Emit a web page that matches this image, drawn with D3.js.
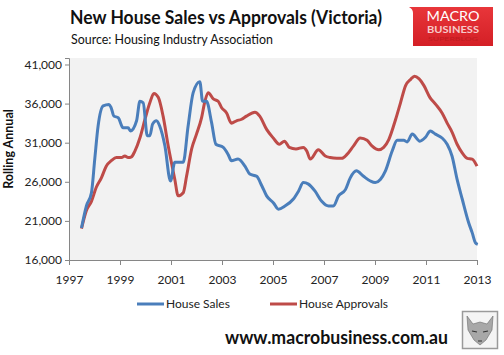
<!DOCTYPE html>
<html>
<head>
<meta charset="utf-8">
<script src="https://cdn.jsdelivr.net/npm/d3@7"></script>
<style>
  body { margin: 0; background: #fff; }
  svg { display: block; font-family: Lato, "Open Sans", sans-serif; }
</style>
</head>
<body>
<svg id="chart"></svg>
<script>
const svgWidth = 504;
const svgHeight = 355;
const margin = { top: 58, right: 27, bottom: 95, left: 69 };

const width = svgWidth - margin.left - margin.right;
const height = svgHeight - margin.top - margin.bottom;

// House sales, rolling annual (decimal year, value)
const salesYears = [1997.49, 1997.68, 1997.88, 1998.01, 1998.14, 1998.34, 1998.57, 1998.65, 1998.76, 1998.93,
  1999.12, 1999.32, 1999.41, 1999.65, 1999.78, 1999.91, 2000.07, 2000.17, 2000.28, 2000.43,
  2000.56, 2000.76, 2000.98, 2001.15, 2001.48, 2001.67, 2001.87, 2002.13, 2002.24, 2002.39,
  2002.59, 2002.76, 2003.05, 2003.24, 2003.37, 2003.63, 2003.90, 2004.09, 2004.36, 2004.56,
  2004.75, 2005.02, 2005.21, 2005.47, 2005.80, 2006.00, 2006.19, 2006.39, 2006.65, 2006.91,
  2007.18, 2007.37, 2007.57, 2007.84, 2008.03, 2008.27, 2008.55, 2008.82, 2009.01, 2009.21,
  2009.41, 2009.67, 2009.87, 2010.13, 2010.26, 2010.46, 2010.76, 2010.98, 2011.17, 2011.37,
  2011.63, 2011.83, 2012.02, 2012.22, 2012.42, 2012.67, 2012.81, 2012.94, 2013.03];
const salesValues = [20100, 22900, 24600, 28900, 33100, 35700, 35900, 35500, 34400, 34200,
  32900, 32900, 32500, 33800, 36300, 36100, 31900, 31900, 33400, 33800,
  33100, 30600, 26100, 28500, 28500, 33100, 37400, 38800, 36300, 36300,
  33600, 30800, 30400, 29500, 28700, 28900, 28000, 27000, 26700, 25500,
  24200, 23300, 22500, 22900, 23800, 24800, 25900, 25700, 24800, 23500,
  22900, 22900, 24200, 25000, 26500, 27400, 26700, 26100, 25900, 26300,
  27400, 29900, 31300, 31300, 31100, 32100, 31200, 31700, 32500, 32100,
  31600, 30800, 29300, 26300, 23800, 20800, 19500, 18200, 18000];

// House approvals, rolling annual
const approvalYears = [1997.49, 1997.68, 1997.88, 1998.07, 1998.27, 1998.46, 1998.66, 1998.86, 1999.06, 1999.19,
  1999.32, 1999.45, 1999.58, 1999.78, 1999.98, 2000.17, 2000.33, 2000.50, 2000.69, 2000.89,
  2001.15, 2001.28, 2001.48, 2001.61, 2001.81, 2002.00, 2002.20, 2002.33, 2002.46, 2002.66,
  2002.85, 2002.98, 2003.18, 2003.37, 2003.57, 2003.77, 2003.96, 2004.29, 2004.48, 2004.75,
  2005.01, 2005.25, 2005.45, 2005.64, 2005.90, 2006.19, 2006.33, 2006.46, 2006.78, 2007.05,
  2007.24, 2007.50, 2007.70, 2007.90, 2008.16, 2008.42, 2008.69, 2008.88, 2009.15, 2009.34,
  2009.54, 2009.81, 2010.00, 2010.20, 2010.40, 2010.55, 2010.72, 2010.92, 2011.15, 2011.38,
  2011.63, 2011.83, 2012.03, 2012.22, 2012.42, 2012.62, 2012.81, 2013.00];
const approvalValues = [20000, 22300, 23500, 25300, 26500, 28000, 28700, 29100, 29100, 29300,
  29100, 29200, 29900, 31600, 34000, 36100, 37300, 36800, 34400, 30600,
  26300, 24200, 24600, 26700, 30200, 32100, 34200, 36300, 37400, 36600,
  36300, 35500, 34800, 33500, 33800, 34000, 34400, 34900, 34400, 32700,
  31600, 30800, 31200, 30400, 30200, 30400, 29900, 28900, 30100, 29300,
  29100, 29000, 29000, 29500, 30600, 31600, 31300, 30600, 30100, 30400,
  31400, 34000, 36100, 38300, 39100, 39500, 39200, 38300, 36800, 35900,
  34800, 33500, 32300, 30800, 29700, 29000, 28900, 28000];

const yTicks = [16000, 21000, 26000, 31000, 36000, 41000];
const xTicks = [1997, 1999, 2001, 2003, 2005, 2007, 2009, 2011, 2013];
const seriesNames = ["House Sales", "House Approvals"];
const seriesColors = ["#4a7ebb", "#be4b48"];

const svg = d3.select("#chart")
    .attr("width", svgWidth)
    .attr("height", svgHeight);

const chart = svg.append("g")
    .attr("transform", `translate(${margin.left},${margin.top})`);

const xScale = d3.scaleLinear().domain([1997, 2013]).range([0, width]);
// plot area runs a little above the top tick
const yScale = d3.scaleLinear().domain([16000, 41830]).range([height, 0]);

// plot area background
chart.append("rect")
    .attr("width", width)
    .attr("height", height)
    .attr("fill", "#f2f2f2");

// axes
const xAxis = d3.axisBottom(xScale)
    .tickValues(xTicks)
    .tickFormat(d3.format("d"))
    .tickSize(5);

const gx = chart.append("g")
    .attr("transform", `translate(0,${height})`)
    .call(xAxis);

const yAxis = d3.axisLeft(yScale)
    .tickValues(yTicks)
    .tickFormat(d3.format(",d"))
    .tickSize(4);

const gy = chart.append("g").call(yAxis);

[gx, gy].forEach(g => {
  g.select(".domain").attr("stroke", "#868686");
  g.selectAll(".tick line").attr("stroke", "#868686");
  g.selectAll(".tick text")
      .attr("fill", "#222")
      .style("font-family", "Lato, sans-serif")
      .style("font-size", "12px");
});
gx.selectAll(".tick text").attr("dy", "1.3em");
gy.selectAll(".tick text").attr("x", -7);

// lines
const series = [
  salesYears.map((yr, i) => ({ x: yr, y: salesValues[i] })),
  approvalYears.map((yr, i) => ({ x: yr, y: approvalValues[i] }))
];

const line = d3.line()
    .x(d => xScale(d.x))
    .y(d => yScale(d.y))
    .curve(d3.curveMonotoneX);

// draw approvals first so sales sits on top where they cross
[1, 0].forEach(i => {
  chart.append("path")
      .datum(series[i])
      .attr("fill", "none")
      .attr("stroke", seriesColors[i])
      .attr("stroke-width", 3)
      .attr("stroke-linejoin", "round")
      .attr("d", line);
});

// y-axis label
svg.append("text")
    .attr("transform", "translate(13,149) rotate(-90)")
    .attr("text-anchor", "middle")
    .style("font-size", "12.5px")
    .style("font-weight", "bold")
    .attr("fill", "#111")
    .text("Rolling Annual");

// legend
const legendX = [137, 270];
seriesNames.forEach((name, i) => {
  const lg = svg.append("g").attr("transform", `translate(${legendX[i]},304)`);
  lg.append("line")
      .attr("x1", 0).attr("x2", 27)
      .attr("stroke", seriesColors[i])
      .attr("stroke-width", 3);
  lg.append("text")
      .attr("x", 29)
      .attr("dy", "0.35em")
      .style("font-size", "12px")
      .attr("fill", "#222")
      .text(name);
});

// title + source
svg.append("text")
    .attr("x", 70).attr("y", 24)
    .attr("textLength", 312)
    .attr("lengthAdjust", "spacingAndGlyphs")
    .style("font-size", "18px")
    .style("font-weight", "bold")
    .attr("fill", "#111")
    .text("New House Sales vs Approvals (Victoria)");

svg.append("text")
    .attr("x", 71).attr("y", 44)
    .attr("textLength", 202)
    .attr("lengthAdjust", "spacingAndGlyphs")
    .style("font-size", "12.5px")
    .attr("fill", "#111")
    .text("Source:  Housing Industry Association");

// MacroBusiness badge
const badge = svg.append("g");
const grad = svg.append("defs").append("linearGradient")
    .attr("id", "badgeGrad")
    .attr("x1", 0).attr("y1", 0).attr("x2", 0).attr("y2", 1);
grad.append("stop").attr("offset", "0%").attr("stop-color", "#e8363a");
grad.append("stop").attr("offset", "100%").attr("stop-color", "#d41f26");
badge.append("path")
    .attr("d", "M409,7 L493,7 L493,46 L413,46 L413,13 Q413,9 409,7 Z")
    .attr("fill", "url(#badgeGrad)");
badge.append("text")
    .attr("x", 453).attr("y", 21)
    .attr("text-anchor", "middle")
    .attr("textLength", 53)
    .attr("lengthAdjust", "spacingAndGlyphs")
    .style("font-size", "13px")
    .attr("fill", "#fff")
    .text("MACRO");
badge.append("text")
    .attr("x", 453).attr("y", 33)
    .attr("text-anchor", "middle")
    .attr("textLength", 52)
    .attr("lengthAdjust", "spacingAndGlyphs")
    .style("font-size", "9px")
    .style("font-weight", "bold")
    .attr("fill", "#f7c9c9")
    .text("BUSINESS");
badge.append("text")
    .attr("x", 453).attr("y", 41)
    .attr("text-anchor", "middle")
    .attr("textLength", 50)
    .attr("lengthAdjust", "spacingAndGlyphs")
    .style("font-size", "5px")
    .attr("fill", "#c01a20")
    .text("SUPERBLOG");

// footer url
svg.append("text")
    .attr("x", 225).attr("y", 344)
    .attr("textLength", 223)
    .attr("lengthAdjust", "spacingAndGlyphs")
    .style("font-size", "18px")
    .style("font-weight", "bold")
    .attr("fill", "#111")
    .text("www.macrobusiness.com.au");

// fox thumbnail frame
const fox = svg.append("g");
fox.append("rect")
    .attr("x", 462.5).attr("y", 311.5)
    .attr("width", 35).attr("height", 37)
    .attr("fill", "#f4f4f4")
    .attr("stroke", "#9a9a9a")
    .attr("stroke-width", 1.5);
fox.append("path")
    .attr("d", "M467,316 L473,324 L480,322 L487,324 L493,316 L492,330 L486,340 L480,345 L474,340 L468,330 Z")
    .attr("fill", "#a8a8a8")
    .attr("stroke", "#6a6a6a")
    .attr("stroke-width", 0.6);
fox.append("path")
    .attr("d", "M472,331 L477,332 M483,332 L488,331 M478,341 L482,341")
    .attr("stroke", "#333")
    .attr("stroke-width", 1.2);
</script>
</body>
</html>
